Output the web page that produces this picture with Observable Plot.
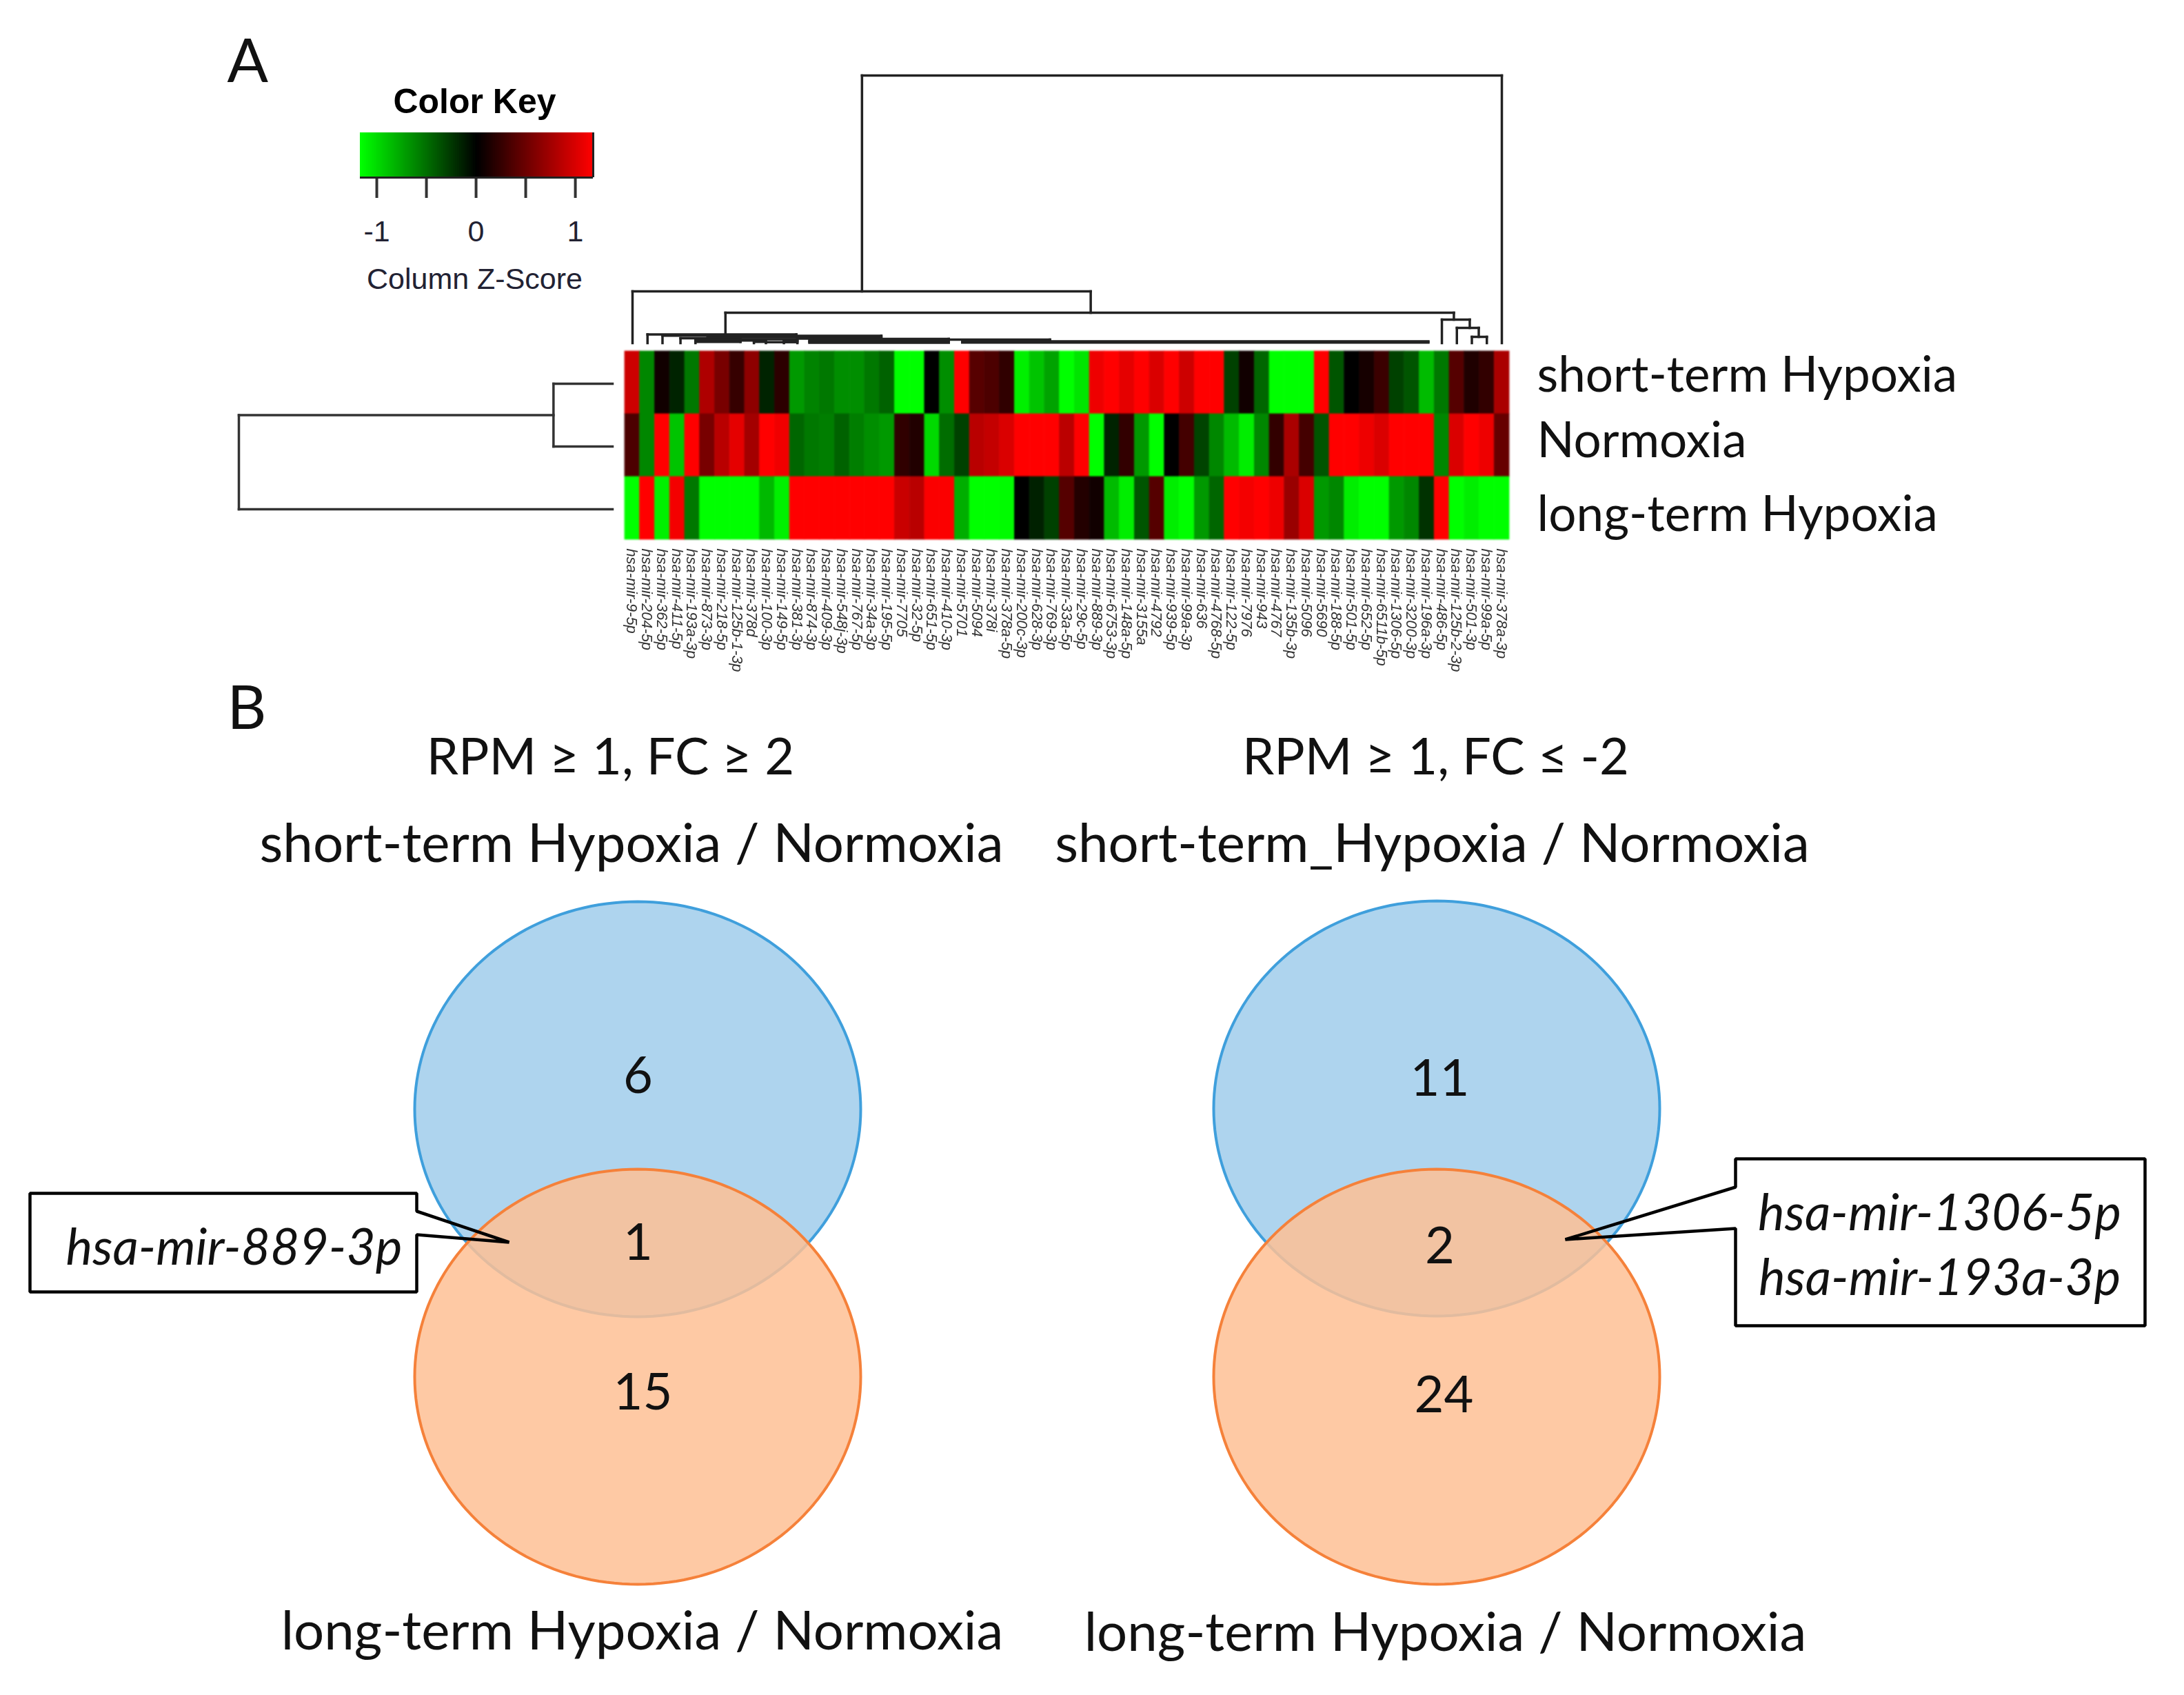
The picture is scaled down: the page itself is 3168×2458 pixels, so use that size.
<!DOCTYPE html>
<html>
<head>
<meta charset="utf-8">
<script src="https://cdn.jsdelivr.net/npm/d3@7"></script>
<script src="https://cdn.jsdelivr.net/npm/@observablehq/plot@0.6"></script>
<style>
html,body{margin:0;padding:0;background:#fff;}
#page{position:relative;width:3168px;height:2458px;overflow:hidden;background:#fff;}
</style>
</head>
<body>
<div id="page"></div>
<script>
// ---------- heat map values ----------
const rowLabels = ["short-term Hypoxia", "Normoxia", "long-term Hypoxia"];
const mirLabels = ["hsa-mir-9-5p","hsa-mir-204-5p","hsa-mir-362-5p","hsa-mir-411-5p","hsa-mir-193a-3p","hsa-mir-873-3p","hsa-mir-218-5p","hsa-mir-125b-1-3p","hsa-mir-378d","hsa-mir-100-3p","hsa-mir-149-5p","hsa-mir-381-3p","hsa-mir-874-3p","hsa-mir-409-3p","hsa-mir-548j-3p","hsa-mir-767-5p","hsa-mir-34a-3p","hsa-mir-195-5p","hsa-mir-7705","hsa-mir-32-5p","hsa-mir-651-5p","hsa-mir-410-3p","hsa-mir-5701","hsa-mir-5094","hsa-mir-378i","hsa-mir-378a-5p","hsa-mir-200c-3p","hsa-mir-628-3p","hsa-mir-769-3p","hsa-mir-33a-5p","hsa-mir-29c-5p","hsa-mir-889-3p","hsa-mir-6753-3p","hsa-mir-148a-5p","hsa-mir-3155a","hsa-mir-4792","hsa-mir-939-5p","hsa-mir-99a-3p","hsa-mir-636","hsa-mir-4768-5p","hsa-mir-122-5p","hsa-mir-7976","hsa-mir-943","hsa-mir-4767","hsa-mir-135b-3p","hsa-mir-5096","hsa-mir-5690","hsa-mir-188-5p","hsa-mir-501-5p","hsa-mir-652-5p","hsa-mir-6511b-5p","hsa-mir-1306-5p","hsa-mir-3200-3p","hsa-mir-196a-3p","hsa-mir-486-5p","hsa-mir-125b-2-3p","hsa-mir-501-3p","hsa-mir-99a-5p","hsa-mir-378a-3p"];
const shortTermZ = [.94,-.62,.08,-.16,-.55,.8,.55,.25,.65,-.16,.2,-.7,-.6,-.55,-.65,-.65,-.55,-.45,-1.17,-1.17,0,-.65,1.17,.4,.35,.22,-1.1,-.9,-.75,-1.17,-1.05,1.09,1.17,1.05,1.17,1,1.17,.94,1.17,1.17,-.3,.08,-.47,-1.17,-1.17,-1.17,1.17,-.39,0,.1,.27,-.3,-.39,-.86,-.55,.39,.14,.23,.78];
const normoxiaZ = [.35,-.62,1.17,-.9,1.17,.55,.85,1.05,.75,1.17,1.1,-.47,-.55,-.58,-.45,-.58,-.65,-.7,.22,.15,-1,-.5,-.3,.85,.9,1,1.17,1.17,1.17,.86,1.17,-1.17,-.16,.23,-.7,-1.17,0,.31,-.31,-.62,-.86,-1.09,-.62,.23,.78,.31,-.39,1.17,1.17,1.09,1,1.17,1.17,1.17,-.62,1,1.17,1.09,.47];
const longTermZ = [-1.17,1.17,-1.1,1.12,-.55,-1.17,-1.17,-1.17,-1.17,-.85,-1.1,1.17,1.17,1.17,1.17,1.17,1.17,1.17,.92,.85,1.15,1.15,-.8,-1.17,-1.17,-1.15,0,-.15,-.3,.39,.16,.08,-.86,-1.09,-.39,.39,-1.09,-1.17,-.7,-.47,1.17,1.12,1.17,1.09,.7,1,-.7,-.62,-1.09,-1.17,-1.17,-.7,-.62,-.23,1.17,-1.17,-1.09,-1.17,-1.17];

// ---------- colour key ----------
const keyColors = ["#00ff00", "#000000", "#ff0000"];
const keyTicks = [-1, -0.5, 0, 0.5, 1];
const keyTickLabels = ["-1", "", "0", "", "1"];

// ---------- dendrograms: [left, right, height, left child height, right child height] ----------
const columnBrackets = [
  [16.31,59,388,75,0],[1,31.57,75,0,44],[7.2,55.8,44,13,34],
  [55,56.86,34,0,22],[56,57.46,22,0,9],[57,58,9,0,0],
  [2,11.93,12.5,0,10.5],[3,6.2,10.8,0,8],[6.2,17.6,10.5,8,6],
  [4.2,8.2,7,0,4],[5.2,8.2,3.8,0,1.8],[5.2,8.2,1.8,1.8,1.8],
  [5.2,12,5.5,5.5,5.5],[6,12,8.5,8.5,8.5],[8.2,9.9,3.8,3.8,3.8],
  [9.1,9.9,1.8,0,0],[9.9,11.1,1.3,1.3,1.3],[11.1,12,3.5,0,0],[11.1,12,1.3,1.3,1.3],
  [12,17.6,8.5,8.5,8.5],[12,17.6,6.5,6.5,6.5],
  [13.2,22.1,6,6,4.3],[12.8,22.1,4,4,4],[12.8,22.1,2.2,2.2,2.2],[12.8,22.1,.4,.4,.4],
  [15.3,28.85,5,5,2.4],[23,28.85,3.2,3.2,3.2],[23,28.85,1.4,1.4,1.4],
  [23,54.1,.8,.8,.8],[28.85,54.1,2.4,2.4,2.4]
];
const rowBrackets = [[0,1,15.8,0,0],[0.5,2,100,15.8,0]];

// ---------- Venn diagrams ----------
const vennTitles = ["RPM ≥ 1, FC ≥ 2", "RPM ≥ 1, FC ≤ -2"];
const vennSubtitles = ["short-term Hypoxia / Normoxia", "short-term_Hypoxia / Normoxia"];
const vennFooters = ["long-term Hypoxia / Normoxia", "long-term Hypoxia / Normoxia"];
const vennCounts = ["6", "1", "15", "11", "2", "24"];
const calloutLabels = ["hsa-mir-889-3p", "hsa-mir-1306-5p", "hsa-mir-193a-3p"];

// ---------- layout ----------
const mainFont = "Lato";
const rFont = "Liberation Sans";
const page = document.getElementById("page");
function place(plot, left, top) {
  plot.style.position = "absolute";
  plot.style.left = left + "px";
  plot.style.top = top + "px";
  plot.style.background = "transparent";
  plot.style.overflow = "visible";
  plot.style.maxWidth = "none";
  page.appendChild(plot);
}
function bracketLinks(brackets) {
  return brackets.flatMap(([a, b, h, ha, hb]) => [
    {x1: a, y1: h, x2: b, y2: h},
    {x1: a, y1: h, x2: a, y2: ha},
    {x1: b, y1: h, x2: b, y2: hb}
  ]).filter(d => d.x1 !== d.x2 || d.y1 !== d.y2);
}

// ---------- full-page layer: ellipses, callouts, captions ----------
const ellipseRadius = {rx: 323.5, ry: 301};
const circles = [
  {id: "a", cx: 924.5, cy: 1608}, {id: "b", cx: 924.5, cy: 1996},
  {id: "c", cx: 2083.5, cy: 1607}, {id: "d", cx: 2083.5, cy: 1996}
];
const outline = c => d3.range(0, 360, 2).map(t => ({
  x: c.cx + ellipseRadius.rx * Math.cos(t * Math.PI / 180),
  y: c.cy + ellipseRadius.ry * Math.sin(t * Math.PI / 180)
}));
const ellipseMark = (c, fill, fillOpacity, stroke) =>
  Plot.line(outline(c), {x: "x", y: "y", curve: "linear-closed", fill, fillOpacity, stroke, strokeWidth: 4});
const calloutLeft = [[43,1730],[604,1730],[604,1756],[738,1801],[604,1790],[604,1873],[43,1873]].map(([x,y]) => ({x,y}));
const calloutRight = [[2517,1680],[3111,1680],[3111,1922],[2517,1922],[2517,1781],[2270,1797],[2517,1721]].map(([x,y]) => ({x,y}));
const calloutMark = pts => Plot.line(pts, {x: "x", y: "y", curve: "linear-closed", stroke: "#000", strokeWidth: 4.5, strokeLinejoin: "miter"});

const captions = [
  {t: "A", x: 329, y: 90, s: 88, a: "start"},
  {t: "B", x: 329, y: 1028, s: 88, a: "start"},
  {t: rowLabels[0], x: 2229, y: 545, s: 71},
  {t: rowLabels[1], x: 2229, y: 640, s: 71},
  {t: rowLabels[2], x: 2229, y: 747, s: 71},
  {t: vennTitles[0], x: 885, y: 1099, s: 74, a: "middle"},
  {t: vennTitles[1], x: 2082, y: 1099, s: 74, a: "middle"},
  {t: vennSubtitles[0], x: 915.5, y: 1225, s: 78, a: "middle"},
  {t: vennSubtitles[1], x: 2077, y: 1225, s: 78, a: "middle"},
  {t: vennFooters[0], x: 931, y: 2367, s: 78, a: "middle"},
  {t: vennFooters[1], x: 2096, y: 2369, s: 78, a: "middle"},
  {t: vennCounts[0], x: 925, y: 1561, s: 74, a: "middle"},
  {t: vennCounts[1], x: 925, y: 1803, s: 74, a: "middle"},
  {t: vennCounts[2], x: 932, y: 2020, s: 74, a: "middle"},
  {t: vennCounts[3], x: 2088, y: 1565, s: 74, a: "middle"},
  {t: vennCounts[4], x: 2088, y: 1808, s: 74, a: "middle"},
  {t: vennCounts[5], x: 2094, y: 2024, s: 74, a: "middle"}
];
const italicCaptions = [
  {t: calloutLabels[0], x: 339, y: 1810},
  {t: calloutLabels[1], x: 2813, y: 1760},
  {t: calloutLabels[2], x: 2813, y: 1854}
];

place(Plot.plot({
  width: 3168, height: 2458, margin: 0,
  x: {domain: [0, 3168], range: [0, 3168], axis: null},
  y: {domain: [0, 2458], range: [0, 2458], axis: null},
  marks: [
    ellipseMark(circles[0], "#AED4EE", 1, "#3F9FDC"),
    ellipseMark(circles[2], "#AED4EE", 1, "#3F9FDC"),
    ellipseMark(circles[1], "#FEBF94", .85, "#F5813A"),
    ellipseMark(circles[3], "#FEBF94", .85, "#F5813A"),
    calloutMark(calloutLeft),
    calloutMark(calloutRight),
    ...d3.groups(captions, d => d.s + (d.a || "start")).map(([, rows]) =>
      Plot.text(rows, {x: "x", y: "y", text: "t", fontSize: rows[0].s, fontFamily: mainFont, fill: "#111",
        textAnchor: rows[0].a || "start", lineAnchor: "middle"})),
    Plot.text(italicCaptions, {x: "x", y: "y", text: "t", fontSize: 73, fontFamily: mainFont, fontStyle: "italic", fill: "#111", textAnchor: "middle", lineAnchor: "middle"})
  ]
}), 0, 0);

// ---------- colour key ----------
const keyBins = d3.range(-1.167, 1.18, 0.02).map(v => ({v, x1: v, x2: Math.min(v + 0.035, 1.18)}));
place(Plot.plot({
  width: 460, height: 320, marginLeft: 62, marginRight: 60, marginTop: 92, marginBottom: 163,
  x: {domain: [-1.167, 1.18], axis: null},
  y: {domain: [0, 1], axis: null},
  color: {type: "linear", domain: [-1.17, 0, 1.17], range: keyColors, interpolate: "rgb", clamp: true},
  marks: [
    Plot.rect(keyBins, {x1: "x1", x2: "x2", y1: 0, y2: 1, fill: "v", imageFilter: "blur(0.6px)"}),
    Plot.axisX(keyTicks, {anchor: "bottom", tickSize: 30, tickPadding: 32, fontSize: 43, fontFamily: rFont, stroke: "#333", strokeWidth: 4, fill: "#223",
      tickFormat: (d, i) => keyTickLabels[i]}),
    Plot.ruleY([0], {stroke: "#222", strokeWidth: 3}),
    Plot.ruleX([1.18], {stroke: "#222", strokeWidth: 3}),
    Plot.text(["Color Key"], {frameAnchor: "top", dy: -45, dx: -3, lineAnchor: "middle", fontSize: 50, fontWeight: "bold", fontFamily: rFont, fill: "#000"}),
    Plot.text(["Column Z-Score"], {frameAnchor: "bottom", dy: 148, dx: -3, lineAnchor: "middle", fontSize: 43, fontFamily: rFont, fill: "#223"})
  ]
}), 460, 100);

// ---------- row dendrogram ----------
place(Plot.plot({
  width: 580, height: 220, marginLeft: 26, marginRight: 12, marginTop: 16, marginBottom: 22,
  x: {domain: [100, 0], axis: null},
  y: {domain: [2, 0], axis: null},
  marks: [
    Plot.link(bracketLinks(rowBrackets).map(d => ({x1: d.y1, y1: d.x1, x2: d.y2, y2: d.x2})),
      {x1: "x1", y1: "y1", x2: "x2", y2: "y2", stroke: "#333", strokeWidth: 3.5, strokeLinecap: "square", imageFilter: "blur(0.6px)"})
  ]
}), 320, 540);

// ---------- column dendrogram ----------
place(Plot.plot({
  width: 1320, height: 420, marginLeft: 37, marginRight: 22, marginTop: 19, marginBottom: 13,
  x: {domain: [1, 59], axis: null},
  y: {domain: [0, 388], axis: null},
  marks: [
    Plot.link(bracketLinks(columnBrackets), {x1: "x1", y1: "y1", x2: "x2", y2: "y2", stroke: "#222", strokeWidth: 3.5, strokeLinecap: "square", imageFilter: "blur(0.6px)"})
  ]
}), 880, 90);

// ---------- heat map ----------
const cells = rowLabels.flatMap((row, r) =>
  mirLabels.map((mir, c) => ({mir, row, z: [shortTermZ, normoxiaZ, longTermZ][r][c]})));
place(Plot.plot({
  width: 1323, height: 495, marginLeft: 20, marginRight: 20, marginTop: 10, marginBottom: 210,
  x: {domain: mirLabels, padding: 0, axis: null},
  y: {domain: rowLabels, padding: 0, axis: null},
  color: {type: "linear", domain: [-1.17, 0, 1.17], range: keyColors, interpolate: "rgb", clamp: true},
  marks: [
    Plot.cell(cells, {x: "mir", y: "row", fill: "z", stroke: "z", strokeWidth: 0.8, imageFilter: "blur(0.9px)"}),
    Plot.axisX({anchor: "bottom", label: null, tickRotate: 90, tickSize: 0, tickPadding: 12, fontSize: 21.8, fontStyle: "italic", fontFamily: rFont, fill: "#333", dx: -1, imageFilter: "blur(0.5px)"})
  ]
}), 886, 498);
</script>
</body>
</html>
